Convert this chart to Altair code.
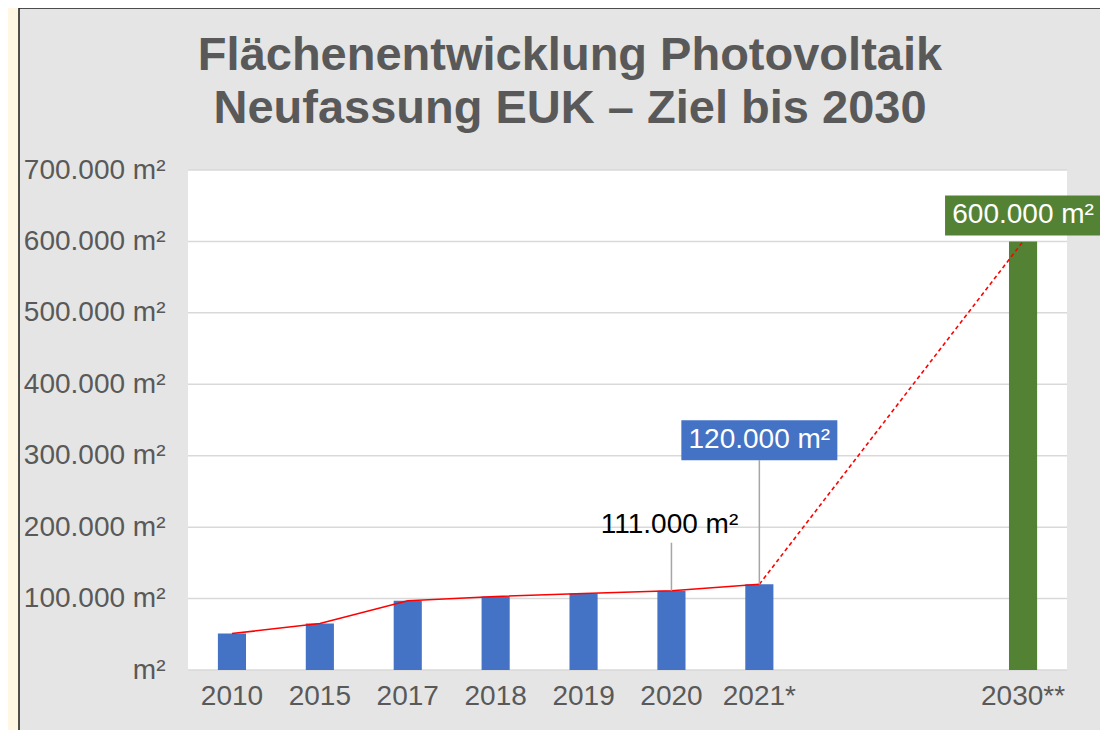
import altair as alt
import pandas as pd

categories = ["2010", "2015", "2017", "2018", "2019", "2020", "2021*", "2030**"]
areas = [51000, 65000, 97000, 103000, 107000, 111000, 120000, 600000]
bar_colors = ["#4472C4", "#4472C4", "#4472C4", "#4472C4", "#4472C4", "#4472C4", "#4472C4", "#548235"]
gap_slots = [" ", "  "]
y_ticks = [0, 100000, 200000, 300000, 400000, 500000, 600000, 700000]
title_lines = ["Flächenentwicklung Photovoltaik", "Neufassung EUK – Ziel bis 2030"]

domain = categories[:7] + gap_slots + categories[7:]

df = pd.DataFrame({"cat": categories, "area": areas, "color": bar_colors})
df["label"] = df["area"].map(lambda v: f"{v:,}".replace(",", ".") + " m²")
grid_df = pd.DataFrame({"area": y_ticks})

W, H = 879, 500
FONT = "Liberation Sans"
GREY_TXT = "#595959"
FS = 28

x_enc = alt.X(
    "cat:N",
    sort=domain,
    scale=alt.Scale(domain=domain, paddingInner=0.68, paddingOuter=0.34),
    axis=alt.Axis(title=None, labelAngle=0, ticks=False, domain=False, grid=False,
                  labelFontSize=FS, labelColor=GREY_TXT, labelPadding=12, zindex=1,
                  labelFont=FONT),
)
y_enc = alt.Y(
    "area:Q",
    scale=alt.Scale(domain=[0, 700000], nice=False),
    axis=alt.Axis(title=None, values=y_ticks, ticks=False, domain=False, grid=False,
                  labelExpr="datum.value == 0 ? 'm²' : replace(format(datum.value, ',d'), /,/g, '.') + ' m²'",
                  labelFontSize=FS, labelColor=GREY_TXT, labelPadding=23, zindex=1,
                  labelFont=FONT),
)

one = pd.DataFrame({"a": [0]})
panel = alt.Chart(one).mark_rect(fill="#e5e5e5", stroke="#1a1a1a", strokeWidth=1.5).encode(
    x=alt.value(-169), x2=alt.value(W + 120), y=alt.value(-162), y2=alt.value(H + 120)
)
plot_bg = alt.Chart(one).mark_rect(fill="white").encode(
    x=alt.value(0), x2=alt.value(W), y=alt.value(0), y2=alt.value(H)
)
grid = alt.Chart(grid_df).mark_rule(color="#d9d9d9", strokeWidth=1.5).encode(y="area:Q")

bars = alt.Chart(df).mark_bar().encode(
    x=x_enc, y=y_enc, color=alt.Color("color:N", scale=None)
)
line_solid = alt.Chart(df.iloc[:7]).mark_line(color="#ff0000", strokeWidth=1.6).encode(
    x="cat:N", y="area:Q"
)
line_dash = alt.Chart(df.iloc[6:8]).mark_line(color="#ff0000", strokeWidth=1.6, strokeDash=[4, 3]).encode(
    x="cat:N", y="area:Q"
)

d2020 = df[df["cat"] == "2020"]
d2021 = df[df["cat"] == "2021*"]
d2030 = df[df["cat"] == "2030**"]

lead2020 = alt.Chart(d2020).mark_rule(color="#a6a6a6", strokeWidth=1.5, y2Offset=-48).encode(
    x="cat:N", y="area:Q", y2="area:Q"
)
lead2021 = alt.Chart(d2021).mark_rule(color="#a6a6a6", strokeWidth=1.5, y2Offset=-124).encode(
    x="cat:N", y="area:Q", y2="area:Q"
)

box_path = "M-1,-0.2564H1V0.2564H-1Z"
box2021 = alt.Chart(d2021).mark_point(shape=box_path, size=156 * 156, filled=True, opacity=1,
                                      color="#4472C4", strokeWidth=0, yOffset=-144).encode(
    x="cat:N", y="area:Q"
)
txt2021 = alt.Chart(d2021).mark_text(color="white", fontSize=FS, font=FONT, baseline="middle",
                                     yOffset=-144).encode(x="cat:N", y="area:Q", text="label:N")
box2030 = alt.Chart(d2030).mark_point(shape=box_path, size=156 * 156, filled=True, opacity=1,
                                      color="#548235", strokeWidth=0, yOffset=-26).encode(
    x="cat:N", y="area:Q"
)
txt2030 = alt.Chart(d2030).mark_text(color="white", fontSize=FS, font=FONT, baseline="middle",
                                     yOffset=-26).encode(x="cat:N", y="area:Q", text="label:N")
txt2020 = alt.Chart(d2020).mark_text(color="black", fontSize=FS, font=FONT, baseline="alphabetic",
                                     yOffset=-58, dx=-2).encode(x="cat:N", y="area:Q", text="label:N")

title = alt.Chart(one).mark_text(
    font=FONT, fontSize=47, fontWeight="bold", color=GREY_TXT, align="center",
    baseline="alphabetic", lineHeight=53
).encode(x=alt.value(382), y=alt.value(-100), text=alt.value(title_lines))

chart = alt.layer(
    panel, plot_bg, grid, bars, line_solid, line_dash, lead2020, lead2021,
    box2021, txt2021, box2030, txt2030, txt2020, title
).properties(
    width=W, height=H,
    autosize=alt.AutoSizeParams(type="none"),
    padding={"left": 180, "top": 162, "right": 33, "bottom": 60},
    background="#fff6e4",
).configure_view(stroke=None).configure(font=FONT)

chart.save("out.html", embed_options={"renderer": "svg", "actions": False})
